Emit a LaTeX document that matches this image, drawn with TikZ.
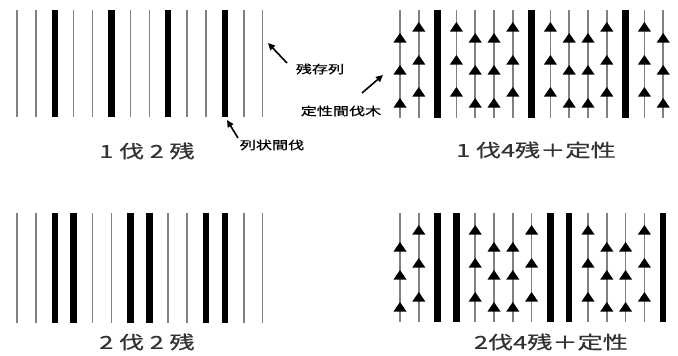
\documentclass[tikz,border=0pt]{standalone}
\usepackage{fontspec}
\newfontfamily\cjk[FakeStretch=1.4,FakeBold=0.6]{Noto Sans CJK JP}
\usetikzlibrary{arrows.meta}
\begin{document}
\begin{tikzpicture}[x=1pt,y=-1pt,
  thinln/.style={draw=black!50, line width=1.5pt},
  thickln/.style={draw=black, line width=6.5pt},
  lbl/.style={font=\cjk\fontsize{18pt}{20pt}\selectfont, text=black!80, inner sep=0pt},
  note/.style={font=\cjk\fontsize{11.5pt}{13pt}\selectfont, inner sep=0pt},
  pointer/.style={-{Triangle[length=7pt,width=6.5pt]}, line width=1.6pt},
  uptri/.pic={\fill[black] (0,0) -- (6.5,9.5) -- (-6.5,9.5) -- cycle;}]
\useasboundingbox (0,0) rectangle (678,356);
\fill[white] (0,0) rectangle (678,356);

% ---------- top-left: 1 cut 2 remain ----------
\foreach \i in {0,1,3,4,6,7,9,10,12,13}
  \draw[thinln] ({17+18.9*\i},10) -- ({17+18.9*\i},117);
\foreach \i in {2,5,8,11}
  \draw[thickln] ({17+18.9*\i},10) -- ({17+18.9*\i},117);

% ---------- bottom-left: 2 cut 2 remain ----------
\foreach \i in {0,1,4,5,8,9,12,13}
  \draw[thinln] ({17+18.9*\i},213) -- ({17+18.9*\i},323);
\foreach \i in {2,3,6,7,10,11}
  \draw[thickln] ({17+18.9*\i},213) -- ({17+18.9*\i},323);

% ---------- top-right: 1 cut 4 remain + selective ----------
\foreach \i in {0,1,3,4,5,6,8,9,10,11,13,14}
  \draw[thinln] ({400+18.8*\i},10) -- ({400+18.8*\i},118);
\foreach \i in {2,7,12}
  \draw[thickln] ({400+18.8*\i},10) -- ({400+18.8*\i},118);
\foreach \i in {0,4,5,9,10,14}
  \foreach \y in {33,65,98}
    \pic at ({400+18.8*\i},\y) {uptri};
\foreach \i in {1,3,6,8,11,13}
  \foreach \y in {22,55,87}
    \pic at ({400+18.8*\i},\y) {uptri};

% ---------- bottom-right: 2 cut 4 remain + selective ----------
\foreach \i in {0,1,4,5,6,7,10,11,12,13}
  \draw[thinln] ({400+18.8*\i},213) -- ({400+18.8*\i},322);
\foreach \i in {2,3,8,9,14}
  \draw[thickln] ({400+18.8*\i},213) -- ({400+18.8*\i},322);
\foreach \i in {0,5,6,11,12}
  \foreach \y in {242,270,302}
    \pic at ({400+18.8*\i},\y) {uptri};
\foreach \i in {1,4,7,10,13}
  \foreach \y in {225,258,292}
    \pic at ({400+18.8*\i},\y) {uptri};

% ---------- captions ----------
\node[lbl] (c1) at (147,151) {1 伐 2 残};
\node[lbl] (c2) at (536,150) {1 伐4残＋定性};
\node[lbl] (c3) at (147,342) {2 伐 2 残};
\node[lbl] (c4) at (551,342) {2伐4残＋定性};

% ---------- annotations ----------
\node[note] (n1) at (320,69) {残存列};
\node[note] (n2) at (341,111) {定性間伐木};
\node[note] (n3) at (272,145) {列状間伐};
\coordinate (s1) at (287,63);  \coordinate (h1) at (268,43);
\coordinate (s2) at (362,93);  \coordinate (h2) at (383,75);
\coordinate (s3) at (238,138); \coordinate (h3) at (227,120);
\draw[pointer] (s1) -- (h1);
\draw[pointer] (s2) -- (h2);
\draw[pointer] (s3) -- (h3);
\end{tikzpicture}
\end{document}
